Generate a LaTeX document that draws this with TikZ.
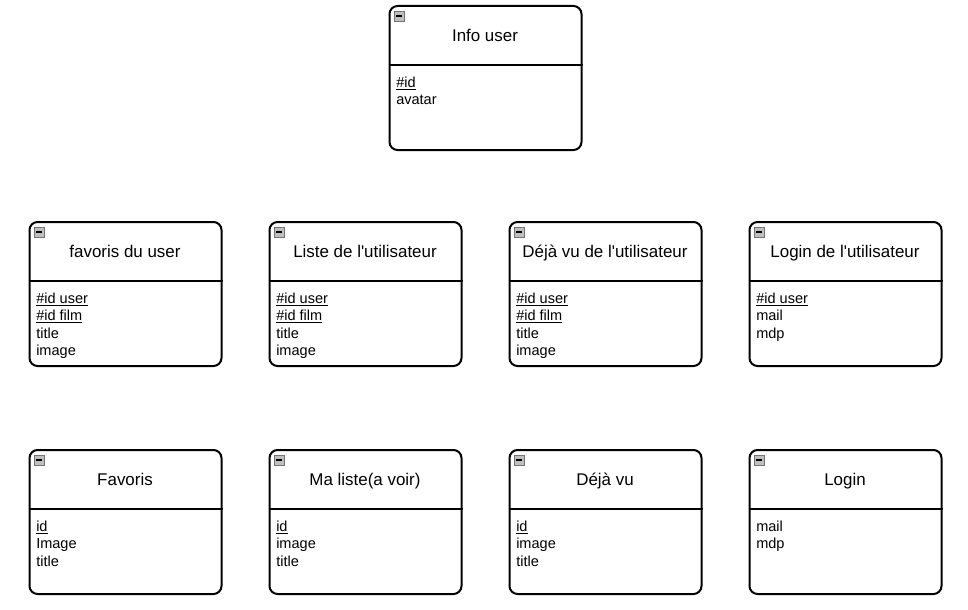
\documentclass[tikz,border=0pt]{standalone}
\usepackage{fontspec}
\setmainfont{Liberation Sans}
\newcommand{\keyattr}[1]{\underline{#1}}
\newcommand{\bodyfont}{\fontsize{10.9}{13}\selectfont\lineskip=0pt\relax\lineskiplimit=-100pt\relax}
\begin{document}
\begin{tikzpicture}[x=0.75pt,y=-0.75pt,
  boxframe/.style={draw=black,line width=1.5pt,rounded corners=6pt},
  sepline/.style={draw=black,line width=1.5pt},
  titletext/.style={font=\fontsize{12.7}{15}\selectfont,inner sep=0pt,anchor=base},
  bodytext/.style={font=\bodyfont,inner sep=0pt,align=left,anchor=north west},
  iconbox/.style={draw=black!55,fill=black!25,line width=0.5pt},
  iconbar/.style={draw=black,line width=0.9pt}]
\useasboundingbox (0,0) rectangle (968,610);
\newcommand{\umlbox}[5]{%
  \node[boxframe,minimum width=192*0.75pt,minimum height=144*0.75pt,anchor=north west,inner sep=0pt] (#1) at (#2-0.5,#3) {};
  \draw[sepline] (#1.west |- {#2,#3+60}) -- (#1.east |- {#2,#3+60});
  \node[titletext] (#1-title) at (#2+96,#3+36.5) {#4};
  \node[bodytext] (#1-body) at (#2+7,#3+70) {\strut#5};
  \draw[iconbox] (#2+5,#3+6) rectangle (#2+15,#3+16);
  \draw[iconbar] (#2+7,#3+11) -- (#2+13,#3+11);
}
\umlbox{info}{389}{5}{Info user}{\keyattr{\#id}\\avatar}
\umlbox{favu}{29}{221}{favoris du user}{\keyattr{\#id user}\\\keyattr{\#id film}\\title\\image}
\umlbox{listu}{269}{221}{Liste de l\textquotesingle utilisateur}{\keyattr{\#id user}\\\keyattr{\#id film}\\title\\image}
\umlbox{dejau}{509}{221}{Déjà vu de l\textquotesingle utilisateur}{\keyattr{\#id user}\\\keyattr{\#id film}\\title\\image}
\umlbox{loginu}{749}{221}{Login de l\textquotesingle utilisateur}{\keyattr{\#id user}\\mail\\mdp}
\umlbox{fav}{29}{449}{Favoris}{\keyattr{id}\\Image\\title}
\umlbox{list}{269}{449}{Ma liste(a voir)}{\keyattr{id}\\image\\title}
\umlbox{deja}{509}{449}{Déjà vu}{\keyattr{id}\\image\\title}
\umlbox{login}{749}{449}{Login}{mail\\mdp}
\end{tikzpicture}
\end{document}
